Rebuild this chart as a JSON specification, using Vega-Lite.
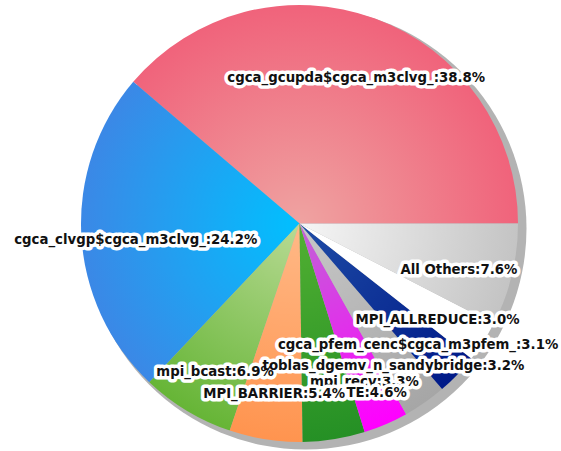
{
  "$schema": "https://vega.github.io/schema/vega-lite/v6.json",
  "autosize": "none",
  "width": 437,
  "height": 437,
  "padding": {"left": 81, "top": 5, "right": 43, "bottom": 9},
  "background": "white",
  "config": {"view": {"stroke": null}},
  "datasets": {
    "slices": [
      {"rank": 1, "name": "cgca_gcupda$cgca_m3clvg_", "value": 38.8, "label": "cgca_gcupda$cgca_m3clvg_:38.8%"},
      {"rank": 2, "name": "cgca_clvgp$cgca_m3clvg_", "value": 24.2, "label": "cgca_clvgp$cgca_m3clvg_:24.2%"},
      {"rank": 3, "name": "mpi_bcast", "value": 6.9, "label": "mpi_bcast:6.9%"},
      {"rank": 4, "name": "MPI_BARRIER", "value": 5.4, "label": "MPI_BARRIER:5.4%"},
      {"rank": 5, "name": "TE", "value": 4.6, "label": "TE:4.6%"},
      {"rank": 6, "name": "mpi_recv", "value": 3.3, "label": "mpi_recv:3.3%"},
      {"rank": 7, "name": "toblas_dgemv_n_sandybridge", "value": 3.2, "label": "toblas_dgemv_n_sandybridge:3.2%"},
      {"rank": 8, "name": "cgca_pfem_cenc$cgca_m3pfem_", "value": 3.1, "label": "cgca_pfem_cenc$cgca_m3pfem_:3.1%"},
      {"rank": 9, "name": "MPI_ALLREDUCE", "value": 3.0, "label": "MPI_ALLREDUCE:3.0%"},
      {"rank": 10, "name": "All Others", "value": 7.6, "label": "All Others:7.6%"}
    ]
  },
  "layer": [
    {
      "data": {"values": [{"part": "shadow"}]},
      "mark": {"type": "arc", "theta": 0, "theta2": 6.2832, "radius": 221, "xOffset": 6, "yOffset": 5, "color": "#b3b3b3"}
    },
    {
      "data": {"name": "slices"},
      "mark": {"type": "arc"},
      "encoding": {
        "theta": {"field": "value", "type": "quantitative", "stack": true, "scale": {"range": [1.5708, -4.7124]}},
        "order": {"field": "rank", "type": "quantitative"},
        "color": {
          "condition": [
            {"test": "datum.rank === 1", "value": {"gradient": "radial", "x1": 0.4322, "y1": 0.7839, "r1": 0, "x2": 0.4322, "y2": 0.7839, "r2": 0.5678, "stops": [{"offset": 0, "color": "#efa3a1"}, {"offset": 1, "color": "#f0637b"}]}},
            {"test": "datum.rank === 2", "value": {"gradient": "radial", "x1": 0.8636, "y1": 0.4719, "r1": 0, "x2": 0.8636, "y2": 0.4719, "r2": 0.7271, "stops": [{"offset": 0, "color": "#00c0ff"}, {"offset": 1, "color": "#3b88e6"}]}},
            {"test": "datum.rank === 3", "value": {"gradient": "radial", "x1": 0.8626, "y1": 0, "r1": 0, "x2": 0.8626, "y2": 0, "r2": 1.055, "stops": [{"offset": 0, "color": "#b8da94"}, {"offset": 1, "color": "#66b536"}]}},
            {"test": "datum.rank === 4", "value": {"gradient": "radial", "x1": 0.6524, "y1": 0, "r1": 0, "x2": 0.6524, "y2": 0, "r2": 1.0, "stops": [{"offset": 0, "color": "#ffb987"}, {"offset": 1, "color": "#ff944f"}]}},
            {"test": "datum.rank === 5", "value": {"gradient": "radial", "x1": 0.3508, "y1": 0, "r1": 0, "x2": 0.3508, "y2": 0, "r2": 1.0, "stops": [{"offset": 0, "color": "#52b032"}, {"offset": 1, "color": "#259025"}]}},
            {"test": "datum.rank === 6", "value": {"gradient": "radial", "x1": 0.2442, "y1": 0, "r1": 0, "x2": 0.2442, "y2": 0, "r2": 1.0475, "stops": [{"offset": 0, "color": "#bf66d4"}, {"offset": 1, "color": "#ff00ff"}]}},
            {"test": "datum.rank === 7", "value": {"gradient": "radial", "x1": 0.1264, "y1": 0, "r1": 0, "x2": 0.1264, "y2": 0, "r2": 1.1458, "stops": [{"offset": 0, "color": "#c8c8c8"}, {"offset": 1, "color": "#a6a6a6"}]}},
            {"test": "datum.rank === 8", "value": {"gradient": "radial", "x1": 0, "y1": 0.0183, "r1": 0, "x2": 0, "y2": 0.0183, "r2": 1.271, "stops": [{"offset": 0, "color": "#1e4ca6"}, {"offset": 1, "color": "#001a88"}]}},
            {"test": "datum.rank === 10", "value": {"gradient": "radial", "x1": 0, "y1": 0.2705, "r1": 0, "x2": 0, "y2": 0.2705, "r2": 1.0, "stops": [{"offset": 0, "color": "#f6f6f6"}, {"offset": 1, "color": "#c4c4c4"}]}}
          ],
          "value": "#ffffff"
        }
      }
    },
    {
      "data": {"name": "slices"},
      "mark": {"type": "text", "radius": 164, "dy": 8, "font": "DejaVu Sans", "fontWeight": "bold", "fontSize": 13.3, "color": "white", "stroke": "white", "strokeWidth": 7, "strokeJoin": "round"},
      "encoding": {
        "theta": {"field": "value", "type": "quantitative", "stack": true, "scale": {"range": [1.5708, -4.7124]}},
        "order": {"field": "rank", "type": "quantitative"},
        "detail": {"field": "name", "type": "nominal"},
        "text": {"field": "label", "type": "nominal"},
        "opacity": {"condition": {"test": "datum.rank === 6", "value": 1}, "value": 0}
      }
    },
    {
      "data": {"name": "slices"},
      "mark": {"type": "text", "radius": 164, "dy": 8, "font": "DejaVu Sans", "fontWeight": "bold", "fontSize": 13.3, "color": "#111111"},
      "encoding": {
        "theta": {"field": "value", "type": "quantitative", "stack": true, "scale": {"range": [1.5708, -4.7124]}},
        "order": {"field": "rank", "type": "quantitative"},
        "detail": {"field": "name", "type": "nominal"},
        "text": {"field": "label", "type": "nominal"},
        "opacity": {"condition": {"test": "datum.rank === 6", "value": 1}, "value": 0}
      }
    },
    {
      "data": {"name": "slices"},
      "mark": {"type": "text", "radius": 164, "dy": 8, "dx": 21, "align": "left", "font": "DejaVu Sans", "fontWeight": "bold", "fontSize": 13.3, "color": "white", "stroke": "white", "strokeWidth": 7, "strokeJoin": "round"},
      "encoding": {
        "theta": {"field": "value", "type": "quantitative", "stack": true, "scale": {"range": [1.5708, -4.7124]}},
        "order": {"field": "rank", "type": "quantitative"},
        "detail": {"field": "name", "type": "nominal"},
        "text": {"field": "label", "type": "nominal"},
        "opacity": {"condition": {"test": "datum.rank === 5", "value": 1}, "value": 0}
      }
    },
    {
      "data": {"name": "slices"},
      "mark": {"type": "text", "radius": 164, "dy": 8, "dx": 21, "align": "left", "font": "DejaVu Sans", "fontWeight": "bold", "fontSize": 13.3, "color": "#111111"},
      "encoding": {
        "theta": {"field": "value", "type": "quantitative", "stack": true, "scale": {"range": [1.5708, -4.7124]}},
        "order": {"field": "rank", "type": "quantitative"},
        "detail": {"field": "name", "type": "nominal"},
        "text": {"field": "label", "type": "nominal"},
        "opacity": {"condition": {"test": "datum.rank === 5", "value": 1}, "value": 0}
      }
    },
    {
      "data": {"name": "slices"},
      "mark": {"type": "text", "radius": 164, "dy": 8, "font": "DejaVu Sans", "fontWeight": "bold", "fontSize": 13.3, "color": "white", "stroke": "white", "strokeWidth": 7, "strokeJoin": "round"},
      "encoding": {
        "theta": {"field": "value", "type": "quantitative", "stack": true, "scale": {"range": [1.5708, -4.7124]}},
        "order": {"field": "rank", "type": "quantitative"},
        "detail": {"field": "name", "type": "nominal"},
        "text": {"field": "label", "type": "nominal"},
        "opacity": {"condition": {"test": "datum.rank !== 5 && datum.rank !== 6", "value": 1}, "value": 0}
      }
    },
    {
      "data": {"name": "slices"},
      "mark": {"type": "text", "radius": 164, "dy": 8, "font": "DejaVu Sans", "fontWeight": "bold", "fontSize": 13.3, "color": "#111111"},
      "encoding": {
        "theta": {"field": "value", "type": "quantitative", "stack": true, "scale": {"range": [1.5708, -4.7124]}},
        "order": {"field": "rank", "type": "quantitative"},
        "detail": {"field": "name", "type": "nominal"},
        "text": {"field": "label", "type": "nominal"},
        "opacity": {"condition": {"test": "datum.rank !== 5 && datum.rank !== 6", "value": 1}, "value": 0}
      }
    }
  ]
}
